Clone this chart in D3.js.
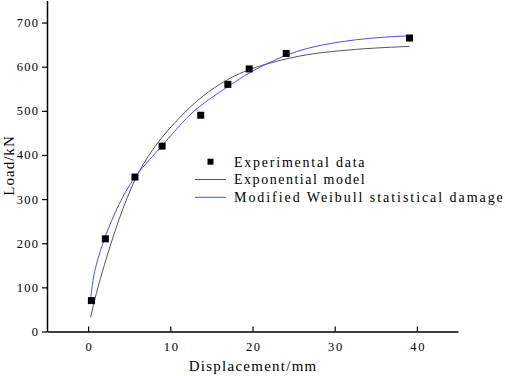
<!DOCTYPE html>
<html>
<head>
<meta charset="utf-8">
<script src="https://d3js.org/d3.v7.min.js"></script>
<style>
  html, body { margin: 0; padding: 0; background: #fff; }
  svg { display: block; }
  text { font-family: "Liberation Serif", "DejaVu Serif", serif; fill: #000; }
</style>
</head>
<body>
<svg id="chart" width="505" height="376"></svg>
<script>
// ---- data ----
const expDisp  = [0.4, 2.1, 5.7, 9.0, 13.7, 17.0, 19.6, 24.1, 39.1];
const expLoad  = [70, 210, 350, 420, 490, 560, 595, 630, 665];

const expoDisp = [0.3, 1, 2, 3, 4, 5, 6, 7.5, 9, 10.5, 12.4, 14.8, 17.2, 19.7, 22.5, 26.6, 30.6, 34.7, 39.1];
const expoLoad = [32, 86, 152, 212, 266, 314, 355, 402, 440, 472, 508, 545, 573, 594, 610, 627, 636, 642, 646];

const weibDisp = [0.3, 0.6, 1.0, 1.5, 2, 3, 4, 5, 5.8, 7.5, 9, 10.5, 12.4, 14.8, 17.2, 18.4, 20, 22.5, 24.1, 26.6, 30.6, 34.7, 39.1];
const weibLoad = [72, 116, 151, 183, 210, 257, 297, 330, 352, 390, 421, 453, 491, 527, 557, 572, 590, 613, 626, 641, 656, 665, 670];

const xTicks = [0, 10, 20, 30, 40];
const yTicks = [0, 100, 200, 300, 400, 500, 600, 700];
const legendLabels = ["Experimental data", "Exponential model", "Modified Weibull statistical damage"];
const xTitle = "Displacement/mm";
const yTitle = "Load/kN";

// ---- drawing ----
const svg = d3.select("#chart");
const x = d3.scaleLinear().domain([-5, 45]).range([47, 458]);
const y = d3.scaleLinear().domain([0, 750]).range([331.5, 0.5]);

const toPts = (xs, ys) => xs.map((d, i) => [d, ys[i]]);
const line = d3.line().x(d => x(d[0])).y(d => y(d[1])).curve(d3.curveMonotoneX);

svg.append("path").datum(toPts(expoDisp, expoLoad))
  .attr("d", line).attr("fill", "none").attr("stroke", "#555").attr("stroke-width", 1);
svg.append("path").datum(toPts(weibDisp, weibLoad))
  .attr("d", line).attr("fill", "none").attr("stroke", "#4d4dff").attr("stroke-width", 1);

const ms = 7;
svg.append("g").selectAll("rect").data(toPts(expDisp, expLoad)).join("rect")
  .attr("x", d => x(d[0]) - ms / 2).attr("y", d => y(d[1]) - ms / 2)
  .attr("width", ms).attr("height", ms).attr("fill", "#000");

// monospace-like width for serif text (spread spacing only)
const mono = (sel, cw) => sel.each(function () {
  const t = d3.select(this);
  const n = t.text().length;
  t.attr("textLength", n * cw).attr("lengthAdjust", "spacing");
});

// axes
const xAxis = d3.axisBottom(x).tickValues(xTicks).tickSizeInner(-5).tickSizeOuter(0).tickPadding(11);
const yAxis = d3.axisLeft(y).tickValues(yTicks).tickSizeInner(5).tickSizeOuter(0).tickPadding(4);

const gx = svg.append("g").attr("transform", `translate(0,${y(0)})`).call(xAxis);
const gy = svg.append("g").attr("transform", `translate(${x(-5)},0)`).call(yAxis);
[gx, gy].forEach(g => {
  g.select(".domain").attr("stroke", "#000").attr("stroke-width", 1.5);
  g.selectAll(".tick line").attr("stroke", "#000").attr("stroke-width", 1.2);
  g.selectAll(".tick text").attr("font-size", 12.5).attr("font-family", "Liberation Serif").attr("fill", "#000")
    .call(mono, 7.1);
});

svg.append("text").attr("x", (x(-5) + x(45)) / 2).attr("y", 371)
  .attr("text-anchor", "middle").attr("font-size", 15).text(xTitle).call(mono, 8.5);
svg.append("text").attr("transform", `translate(14,${(y(0) + y(750)) / 2}) rotate(-90)`)
  .attr("text-anchor", "middle").attr("font-size", 15).text(yTitle).call(mono, 8.5);

// legend
const lg = svg.append("g");
const rowY = [161.7, 179.5, 197.3];
lg.append("rect").attr("x", 210.5 - 3).attr("y", rowY[0] - 3).attr("width", 6).attr("height", 6).attr("fill", "#000");
lg.append("line").attr("x1", 195).attr("x2", 226).attr("y1", rowY[1]).attr("y2", rowY[1]).attr("stroke", "#555").attr("stroke-width", 1);
lg.append("line").attr("x1", 195).attr("x2", 226).attr("y1", rowY[2]).attr("y2", rowY[2]).attr("stroke", "#4d4dff").attr("stroke-width", 1);
lg.selectAll("text.lab").data(legendLabels).join("text").attr("class", "lab")
  .attr("x", 234).attr("y", (d, i) => rowY[i]).attr("dy", "0.35em")
  .attr("font-size", 14).text(d => d).call(mono, 7.68);
</script>
</body>
</html>
